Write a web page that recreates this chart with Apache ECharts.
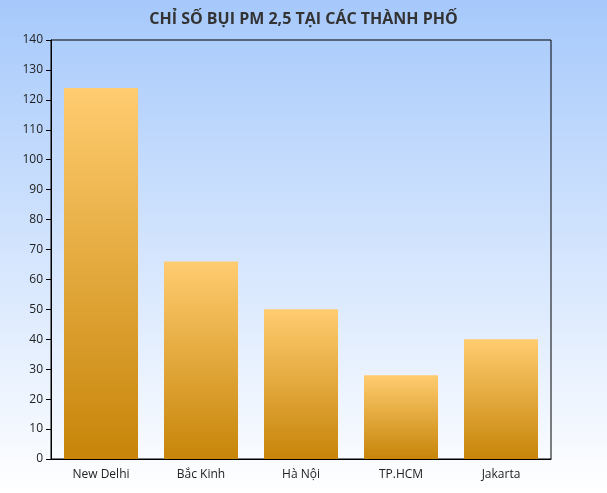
<!DOCTYPE html>
<html><head><meta charset="utf-8">
<script src="https://cdn.jsdelivr.net/npm/echarts@6/dist/echarts.min.js"></script>
<style>html,body{margin:0;padding:0;background:#fff}#c{width:607px;height:493px}</style>
</head><body><div id="c"></div>
<script>
const categories = ['New Delhi', 'Bắc Kinh', 'Hà Nội', 'TP.HCM', 'Jakarta'];
const values = [124, 66, 50, 28, 40];
const chart = echarts.init(document.getElementById('c'));
chart.setOption({
  backgroundColor: new echarts.graphic.LinearGradient(0,0,0,1,[{offset:0,color:'#a6c9fb'},{offset:1,color:'#ffffff'}]),
  title: {text:'CHỈ SỐ BỤI PM 2,5 TẠI CÁC THÀNH PHỐ', left:'center', top:6,
    textStyle:{fontFamily:'Open Sans', fontSize:16, fontWeight:'bold', color:'#333'}},
  grid: {left:51, right:56, top:40, bottom:34, show:true, borderColor:'#000', borderWidth:1, backgroundColor:'transparent'},
  xAxis: {type:'category', data:categories,
    axisLine:{lineStyle:{color:'#000'}}, axisTick:{show:false},
    axisLabel:{color:'#222', fontFamily:'Open Sans', fontSize:12, margin:10}},
  yAxis: {type:'value', min:0, max:140, interval:10,
    axisLine:{show:true, lineStyle:{color:'#000'}}, axisTick:{show:true, lineStyle:{color:'#000'}},
    splitLine:{show:false},
    axisLabel:{color:'#222', fontFamily:'Open Sans', fontSize:12}},
  series: [{type:'bar', data:values, barWidth:'74%',
    itemStyle:{color:new echarts.graphic.LinearGradient(0,0,0,1,[{offset:0,color:'#ffcc70'},{offset:1,color:'#c78509'}])}}]
});
</script></body></html>
